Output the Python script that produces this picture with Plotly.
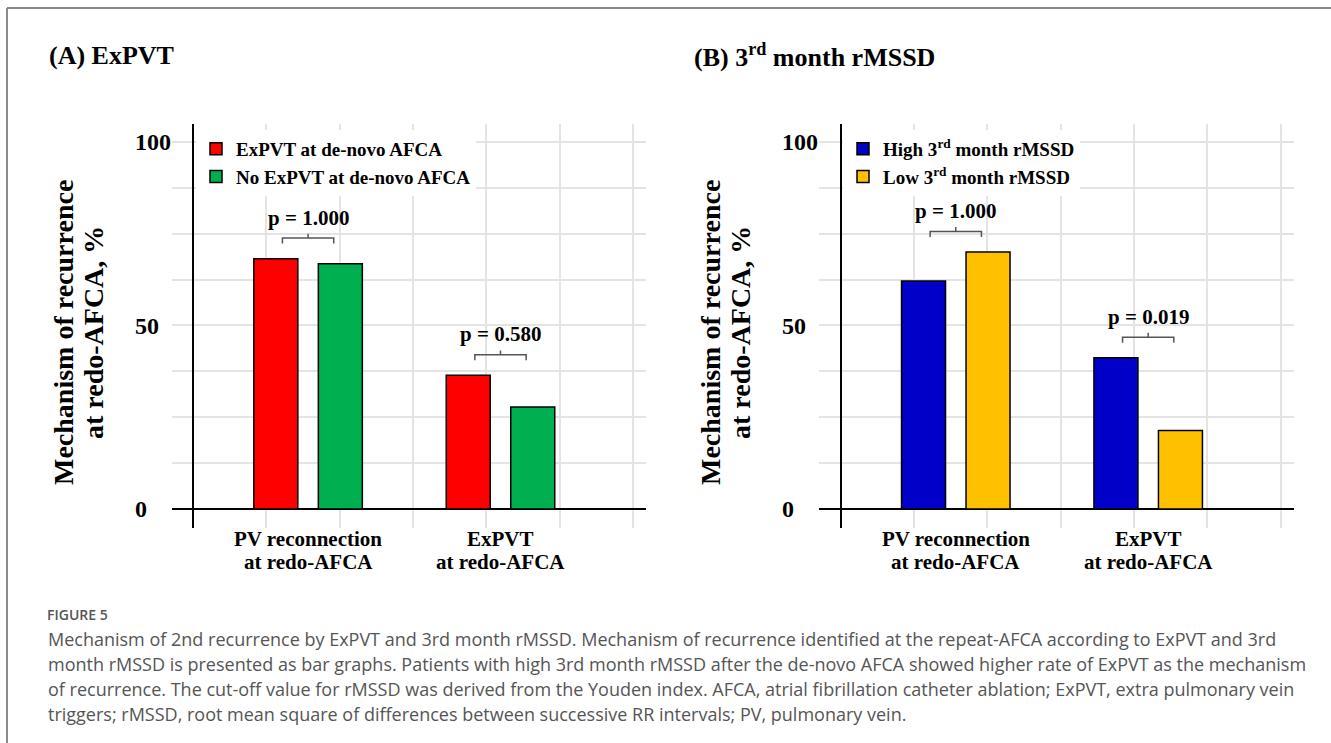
import plotly.graph_objects as go

# ---------------- data ----------------
categories = ["PV reconnection<br>at redo-AFCA", "ExPVT<br>at redo-AFCA"]
panel_titles = ["(A) ExPVT", "(B) 3<sup>rd</sup> month rMSSD"]

series_a = ["ExPVT at de-novo AFCA", "No ExPVT at de-novo AFCA"]
values_a1 = [68.2, 36.4]
values_a2 = [66.8, 27.8]
p_a = ["p = 1.000", "p = 0.580"]

series_b = ["High 3<sup>rd</sup> month rMSSD", "Low 3<sup>rd</sup> month rMSSD"]
values_b1 = [62.1, 41.2]
values_b2 = [70.0, 21.4]
p_b = ["p = 1.000", "p = 0.019"]

y_ticks = [0, 50, 100]
y_title = ["Mechanism of recurrence", "at redo-AFCA, %"]

caption_head = "FIGURE 5"
caption_lines = [
    "Mechanism of 2nd recurrence by ExPVT and 3rd month rMSSD. Mechanism of recurrence identified at the repeat-AFCA according to ExPVT and 3rd",
    "month rMSSD is presented as bar graphs. Patients with high 3rd month rMSSD after the de-novo AFCA showed higher rate of ExPVT as the mechanism",
    "of recurrence. The cut-off value for rMSSD was derived from the Youden index. AFCA, atrial fibrillation catheter ablation; ExPVT, extra pulmonary vein",
    "triggers; rMSSD, root mean square of differences between successive RR intervals; PV, pulmonary vein.",
]

# ---------------- layout constants ----------------
W, H = 1331, 743
CAT_POS = [1.57, 4.195]
SERIF = "Liberation Serif"
SANS = "Open Sans"
COLORS_A = ["#FF0000", "#00B050"]
COLORS_B = ["#0000C8", "#FFC000"]
GRID = "#e4e4e4"


def px(x):
    return x / W


def py(y):
    return 1 - y / H


fig = go.Figure()

panels = [
    dict(series=series_a, vals=[values_a1, values_a2], colors=COLORS_A, p=p_a,
         xa="x", ya="y", legend="legend", left=172, right=646, zero=193),
    dict(series=series_b, vals=[values_b1, values_b2], colors=COLORS_B, p=p_b,
         xa="x2", ya="y2", legend="legend2", left=819, right=1294, zero=840.7),
]

UNIT = 73.3  # px per x unit
for pi, pan in enumerate(panels):
    for si in range(2):
        fig.add_trace(go.Bar(
            x=CAT_POS, y=pan["vals"][si], name=pan["series"][si],
            marker=dict(color=pan["colors"][si], line=dict(color="black", width=1.5)),
            xaxis=pan["xa"], yaxis=pan["ya"], legend=pan["legend"],
            hoverinfo="skip",
        ))
    # brackets + p-values
    for ci, xc in enumerate(CAT_POS):
        yb = max(pan["vals"][0][ci], pan["vals"][1][ci]) + 5.6
        h = 0.35
        fig.add_trace(go.Scatter(
            x=[xc - h, xc - h, xc, xc, xc, xc + h, xc + h],
            y=[yb - 1.5, yb, yb, yb + 1.2, yb, yb, yb - 1.5],
            mode="lines", line=dict(color="#555555", width=1.5),
            xaxis=pan["xa"], yaxis=pan["ya"], showlegend=False, hoverinfo="skip",
        ))
        fig.add_annotation(
            x=xc, y=yb + 5.6, xref=pan["xa"], yref=pan["ya"], text=pan["p"][ci],
            showarrow=False, xanchor="center", yanchor="middle",
            font=dict(family=SERIF, size=21, color="black", weight="bold"),
        )
        # category labels (two lines each)
        lines = categories[ci].split("<br>")
        for li, line in enumerate(lines):
            fig.add_annotation(
                x=xc, y=py(539 + 23 * li), xref=pan["xa"], yref="paper", text=line,
                showarrow=False, xanchor="center", yanchor="middle",
                font=dict(family=SERIF, size=21, color="black", weight="bold"),
            )
    # y-axis title (two lines)
    for li, line in enumerate(y_title):
        fig.add_annotation(
            x=px(pan["left"] - 109 + 30 * li), y=py(333), xref="paper", yref="paper",
            text=line, textangle=-90, showarrow=False, xanchor="center", yanchor="middle",
            font=dict(family=SERIF, size=28, color="black", weight="bold"),
        )
    # panel title
    fig.add_annotation(
        x=px([47, 692][pi]), y=py(55), xref="paper", yref="paper", text=panel_titles[pi],
        showarrow=False, xanchor="left", yanchor="middle",
        font=dict(family=SERIF, size=26, color="black", weight="bold"),
    )

# y tick labels are left-aligned in the reference: pad with nbsp (digit = 2 nbsp)
maxlen = max(len(str(t)) for t in y_ticks)
y_ticktext = [str(t) + "\u00a0" * (2 * (maxlen - len(str(t)))) for t in y_ticks]

axis_x = dict(showgrid=True, gridcolor=GRID, gridwidth=1.5, dtick=1, tick0=0,
              showticklabels=False, ticks="", zeroline=True, zerolinecolor="black",
              zerolinewidth=2, showline=False, fixedrange=True)
axis_y = dict(range=[-5.2, 104.9], tickvals=y_ticks, ticktext=y_ticktext,
              showgrid=True, gridcolor=GRID, gridwidth=1.5, ticks="",
              minor=dict(tickvals=[i * 12.5 for i in (1, 2, 3, 5, 6, 7)],
                         showgrid=True, gridcolor=GRID, gridwidth=1.5),
              zeroline=True, zerolinecolor="black", zerolinewidth=2, showline=False,
              tickfont=dict(family=SERIF, size=24, color="black", weight="bold"),
              fixedrange=True)

yd = [py(528), py(124)]
legend_style = dict(xanchor="left", yanchor="top", bgcolor="white",
                    font=dict(family=SERIF, size=19, color="black", weight="bold"),
                    tracegroupgap=0, itemclick=False, itemdoubleclick=False)
fig.update_layout(
    width=W, height=H, margin=dict(l=0, r=0, t=0, b=0),
    paper_bgcolor="white", plot_bgcolor="white",
    barmode="group", bargap=0.3295, bargroupgap=0.318,
    xaxis=dict(axis_x, domain=[px(172), px(646)],
               range=[(172 - 193) / UNIT, (646 - 193) / UNIT], anchor="y"),
    yaxis=dict(axis_y, domain=yd, anchor="x"),
    xaxis2=dict(axis_x, domain=[px(819), px(1294)],
                range=[(819 - 840.7) / UNIT, (1294 - 840.7) / UNIT], anchor="y2"),
    yaxis2=dict(axis_y, domain=yd, anchor="x2"),
    legend=dict(legend_style, x=px(196), y=py(130)),
    legend2=dict(legend_style, x=px(843), y=py(130)),
    showlegend=True,
)

# caption
fig.add_annotation(x=px(45), y=py(614), xref="paper", yref="paper", text=caption_head,
                   showarrow=False, xanchor="left", yanchor="middle",
                   font=dict(family=SANS, size=14, color="#555555", weight=600))
for i, line in enumerate(caption_lines):
    fig.add_annotation(x=px(46), y=py(639 + 25 * i), xref="paper", yref="paper", text=line,
                       showarrow=False, xanchor="left", yanchor="middle",
                       font=dict(family=SANS, size=18, color="#555555"))

# frame of the figure page
fig.add_shape(type="line", xref="paper", yref="paper", x0=px(7), x1=1, y0=py(8), y1=py(8),
              line=dict(color="#8a8a8a", width=2))
fig.add_shape(type="line", xref="paper", yref="paper", x0=px(7), x1=px(7), y0=py(8), y1=0,
              line=dict(color="#8a8a8a", width=2))

fig.write_html("out.html", config={"displayModeBar": False},
               post_script="document.body.style.margin='0';")
